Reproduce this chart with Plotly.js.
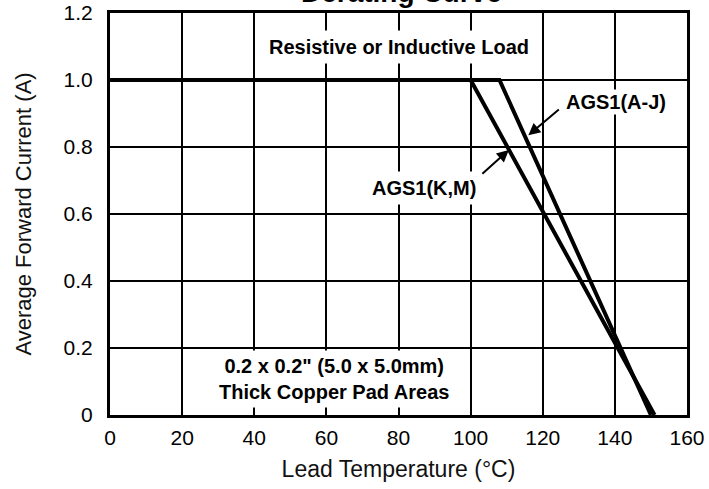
<!DOCTYPE html>
<html>
<head>
<meta charset="utf-8">
<script src="https://cdn.plot.ly/plotly-3.0.1.min.js"></script>
<style>html,body{margin:0;padding:0;background:#fff;}#chart{width:709px;height:489px;}</style>
</head>
<body>
<div id="chart"></div>
<script>
// Derating curves (lead temperature in °C, average forward current in A)
const tempKM = [0, 100, 151];
const currentKM = [1.0, 1.0, 0];
const tempAJ = [0, 108, 150];
const currentAJ = [1.0, 1.0, 0];

const xTickVals = [0, 20, 40, 60, 80, 100, 120, 140, 160];
const xTickText = ['0', '20', '40', '60', '80', '100', '120', '140', '160'];
const yTickVals = [0, 0.2, 0.4, 0.6, 0.8, 1.0, 1.2];
const yTickText = ['0', '0.2', '0.4', '0.6', '0.8', '1.0', '1.2'];

const chartTitle = 'Derating Curve';
const xTitle = 'Lead Temperature (°C)';
const yTitle = 'Average Forward Current (A)';
const noteTop = 'Resistive or Inductive Load';
const noteBottom = '0.2 x 0.2" (5.0 x 5.0mm)<br>Thick Copper Pad Areas';
const labelAJ = 'AGS1(A-J)';
const labelKM = 'AGS1(K,M)';

const FONT = 'Arial, "Liberation Sans", Helvetica, sans-serif';

const traces = [
  {x: tempKM, y: currentKM, name: labelKM, mode: 'lines', line: {color: '#000', width: 4}, hoverinfo: 'x+y+name'},
  {x: tempAJ, y: currentAJ, name: labelAJ, mode: 'lines', line: {color: '#000', width: 4}, hoverinfo: 'x+y+name'}
];

const boldFont = (s) => ({family: FONT, size: s, color: '#000', weight: 'bold'});

const layout = {
  width: 709, height: 489,
  margin: {l: 110, r: 22, t: 13, b: 74},
  paper_bgcolor: '#fff', plot_bgcolor: '#fff',
  showlegend: false,
  font: {family: FONT, color: '#000'},
  xaxis: {
    range: [0, 160], tickvals: xTickVals, ticktext: xTickText,
    showgrid: true, gridcolor: '#000', gridwidth: 2,
    showline: true, linecolor: '#000', linewidth: 3, mirror: true,
    zeroline: false, ticks: '', ticklabelstandoff: 2,
    tickfont: {family: FONT, size: 21, color: '#000'},
    title: {text: xTitle, font: {family: FONT, size: 23, color: '#111'}, standoff: 13}
  },
  yaxis: {
    range: [0, 1.2], tickvals: yTickVals, ticktext: yTickText,
    showgrid: true, gridcolor: '#000', gridwidth: 2,
    showline: true, linecolor: '#000', linewidth: 3, mirror: true,
    zeroline: false, ticks: '', ticklabelstandoff: 10,
    tickfont: {family: FONT, size: 21, color: '#000'},
    title: {text: yTitle, font: {family: FONT, size: 22, color: '#111'}, standoff: 26}
  },
  annotations: [
    {xref: 'paper', yref: 'paper', x: 0.505, y: 1.051, text: chartTitle, showarrow: false,
     xanchor: 'center', yanchor: 'middle', font: boldFont(28)},
    {xref: 'x', yref: 'y', x: 80, y: 1.1, text: noteTop, showarrow: false,
     bgcolor: '#fff', borderpad: 5, font: boldFont(20)},
    {xref: 'x', yref: 'y', x: 62.2, y: 0.107, text: noteBottom, showarrow: false,
     bgcolor: '#fff', borderpad: 4, font: boldFont(20)},
    {xref: 'x', yref: 'y', x: 87.2, y: 0.678, text: labelKM, showarrow: false,
     bgcolor: '#fff', borderpad: 5, font: boldFont(20)},
    {xref: 'x', yref: 'y', x: 140.3, y: 0.934, text: labelAJ, showarrow: false,
     bgcolor: '#fff', borderpad: 1, font: boldFont(20)},
    {xref: 'x', yref: 'y', x: 110.6, y: 0.791, text: '', showarrow: true,
     ax: -28, ay: 25, arrowhead: 2, arrowsize: 1.2, arrowwidth: 2, arrowcolor: '#000'},
    {xref: 'x', yref: 'y', x: 116.0, y: 0.835, text: '', showarrow: true,
     ax: 32, ay: -27, arrowhead: 2, arrowsize: 1.2, arrowwidth: 2, arrowcolor: '#000'}
  ]
};

Plotly.newPlot('chart', traces, layout, {displayModeBar: false, staticPlot: true});
</script>
</body>
</html>
